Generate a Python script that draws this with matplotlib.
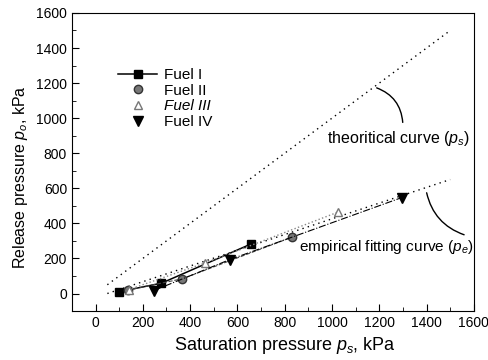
import numpy as np
import matplotlib
matplotlib.use("Agg")
import matplotlib.pyplot as plt
from matplotlib.lines import Line2D

plt.rcParams['font.family'] = ['Liberation Sans', 'DejaVu Sans']
plt.rcParams['mathtext.fontset'] = 'custom'
plt.rcParams['mathtext.it'] = 'Liberation Sans:italic'

# 数据
fuel1_x = [99, 279, 657]
fuel1_y = [10, 59, 282]
fuel2_x = [138, 367, 832]
fuel2_y = [20, 84, 322]
fuel3_x = [140, 465, 1027]
fuel3_y = [22, 175, 465]
fuel4_x = [247, 567, 1295]
fuel4_y = [17, 193, 547]

# 理论曲线 ps 与经验拟合曲线 pe
theory_x = [50, 1500]
theory_y = [50, 1500]
emp_x = [50, 1500]
emp_y = [0, 650]

xticks = [0, 200, 400, 600, 800, 1000, 1200, 1400, 1600]
yticks = [0, 200, 400, 600, 800, 1000, 1200, 1400, 1600]

fig = plt.figure(figsize=(4.89, 3.6), dpi=100)
ax = fig.add_axes([0.147, 0.136, 0.822, 0.828])

ax.plot(theory_x, theory_y, ls=(0, (1, 3)), color='k', lw=1)
ax.plot(emp_x, emp_y, ls=(0, (1, 3)), color='k', lw=1)

ax.plot(fuel1_x, fuel1_y, '-', color='k', lw=1.1, marker='s', ms=6)
ax.plot(fuel2_x, fuel2_y, '--', color='#444444', lw=0.8, marker='o', ms=6,
        mfc='#777777', mec='#333333')
ax.plot(fuel3_x, fuel3_y, ':', color='#888888', lw=1, marker='^', ms=5.5,
        mfc='white', mec='#777777')
ax.plot(fuel4_x, fuel4_y, '-.', color='k', lw=0.8, marker='v', ms=6.5)

# 标注
ax.text(980, 886, 'theoritical curve ($p_s$)', fontsize=11.5, va='center')
ax.annotate('', xy=(1178, 1178), xytext=(1300, 960),
            arrowprops=dict(arrowstyle='-', color='k', lw=1,
                            connectionstyle='arc3,rad=0.35'))
ax.text(861, 263, 'empirical fitting curve ($p_e$)', fontsize=11.1, va='center')
ax.annotate('', xy=(1398, 590), xytext=(1570, 330),
            arrowprops=dict(arrowstyle='-', color='k', lw=1,
                            connectionstyle='arc3,rad=-0.3'))

handles = [
    Line2D([], [], color='k', ls='-', lw=1.1, marker='s', ms=6),
    Line2D([], [], color='#333333', ls='none', marker='o', ms=6, mfc='#777777'),
    Line2D([], [], color='#777777', ls='none', marker='^', ms=5.5, mfc='white'),
    Line2D([], [], color='k', ls='none', marker='v', ms=6.5),
]
leg = ax.legend(handles, ['Fuel I', 'Fuel II', 'Fuel III', 'Fuel IV'],
                loc='upper left', bbox_to_anchor=(0.095, 0.84), frameon=False,
                fontsize=11, handlelength=2.6, labelspacing=0.1,
                handletextpad=0.4, borderpad=0)
leg.get_texts()[2].set_style('italic')

ax.set_xlim(-100, 1600)
ax.set_ylim(-100, 1600)
ax.set_xticks(xticks)
ax.set_yticks(yticks)
ax.set_xticks(np.arange(-100, 1600, 200), minor=True)
ax.set_yticks(np.arange(-100, 1600, 200), minor=True)
ax.tick_params(which='both', direction='in', labelsize=10)
ax.tick_params(which='major', length=5)
ax.tick_params(which='minor', length=3)

ax.set_xlabel('Saturation pressure $p_s$, kPa', fontsize=13, x=0.53)
ax.set_ylabel('Release pressure $p_o$, kPa', fontsize=11.5, y=0.45)

fig.savefig('out.png', dpi=100)
